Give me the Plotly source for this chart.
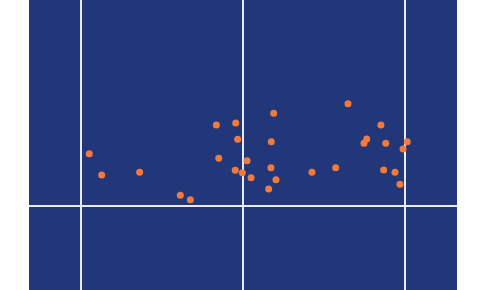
import plotly.graph_objects as go

x_vals = [-0.952, -0.875, -0.640, -0.388, -0.326, -0.165, -0.150, -0.045, -0.033, -0.048,
          -0.004, 0.025, 0.050, 0.159, 0.175, 0.190, 0.173, 0.204, 0.427, 0.574,
          0.650, 0.749, 0.766, 0.854, 0.871, 0.884, 0.941, 0.972, 0.991, 1.017]
y_vals = [0.523, 0.310, 0.337, 0.107, 0.063, 0.810, 0.477, 0.830, 0.667, 0.357,
          0.333, 0.453, 0.283, 0.170, 0.643, 0.927, 0.383, 0.263, 0.337, 0.383,
          1.023, 0.627, 0.670, 0.810, 0.360, 0.627, 0.337, 0.217, 0.570, 0.643]

fig = go.Figure(go.Scatter(
    x=x_vals, y=y_vals, mode="markers",
    marker=dict(color="#f47a3b", size=7),
    hoverinfo="skip",
))

fig.update_layout(
    width=486, height=290,
    margin=dict(l=29, r=29, t=0, b=0),
    paper_bgcolor="white",
    plot_bgcolor="#22377a",
    showlegend=False,
    xaxis=dict(range=[-1.325, 1.325], dtick=1, tick0=0, showgrid=True,
               gridcolor="#e8eaf2", gridwidth=2, zeroline=False,
               showticklabels=False, ticks=""),
    yaxis=dict(range=[-0.84, 2.06], dtick=10, tick0=0, showgrid=True,
               gridcolor="#e8eaf2", gridwidth=2, zeroline=False,
               showticklabels=False, ticks=""),
)

fig.write_html("out.html")
